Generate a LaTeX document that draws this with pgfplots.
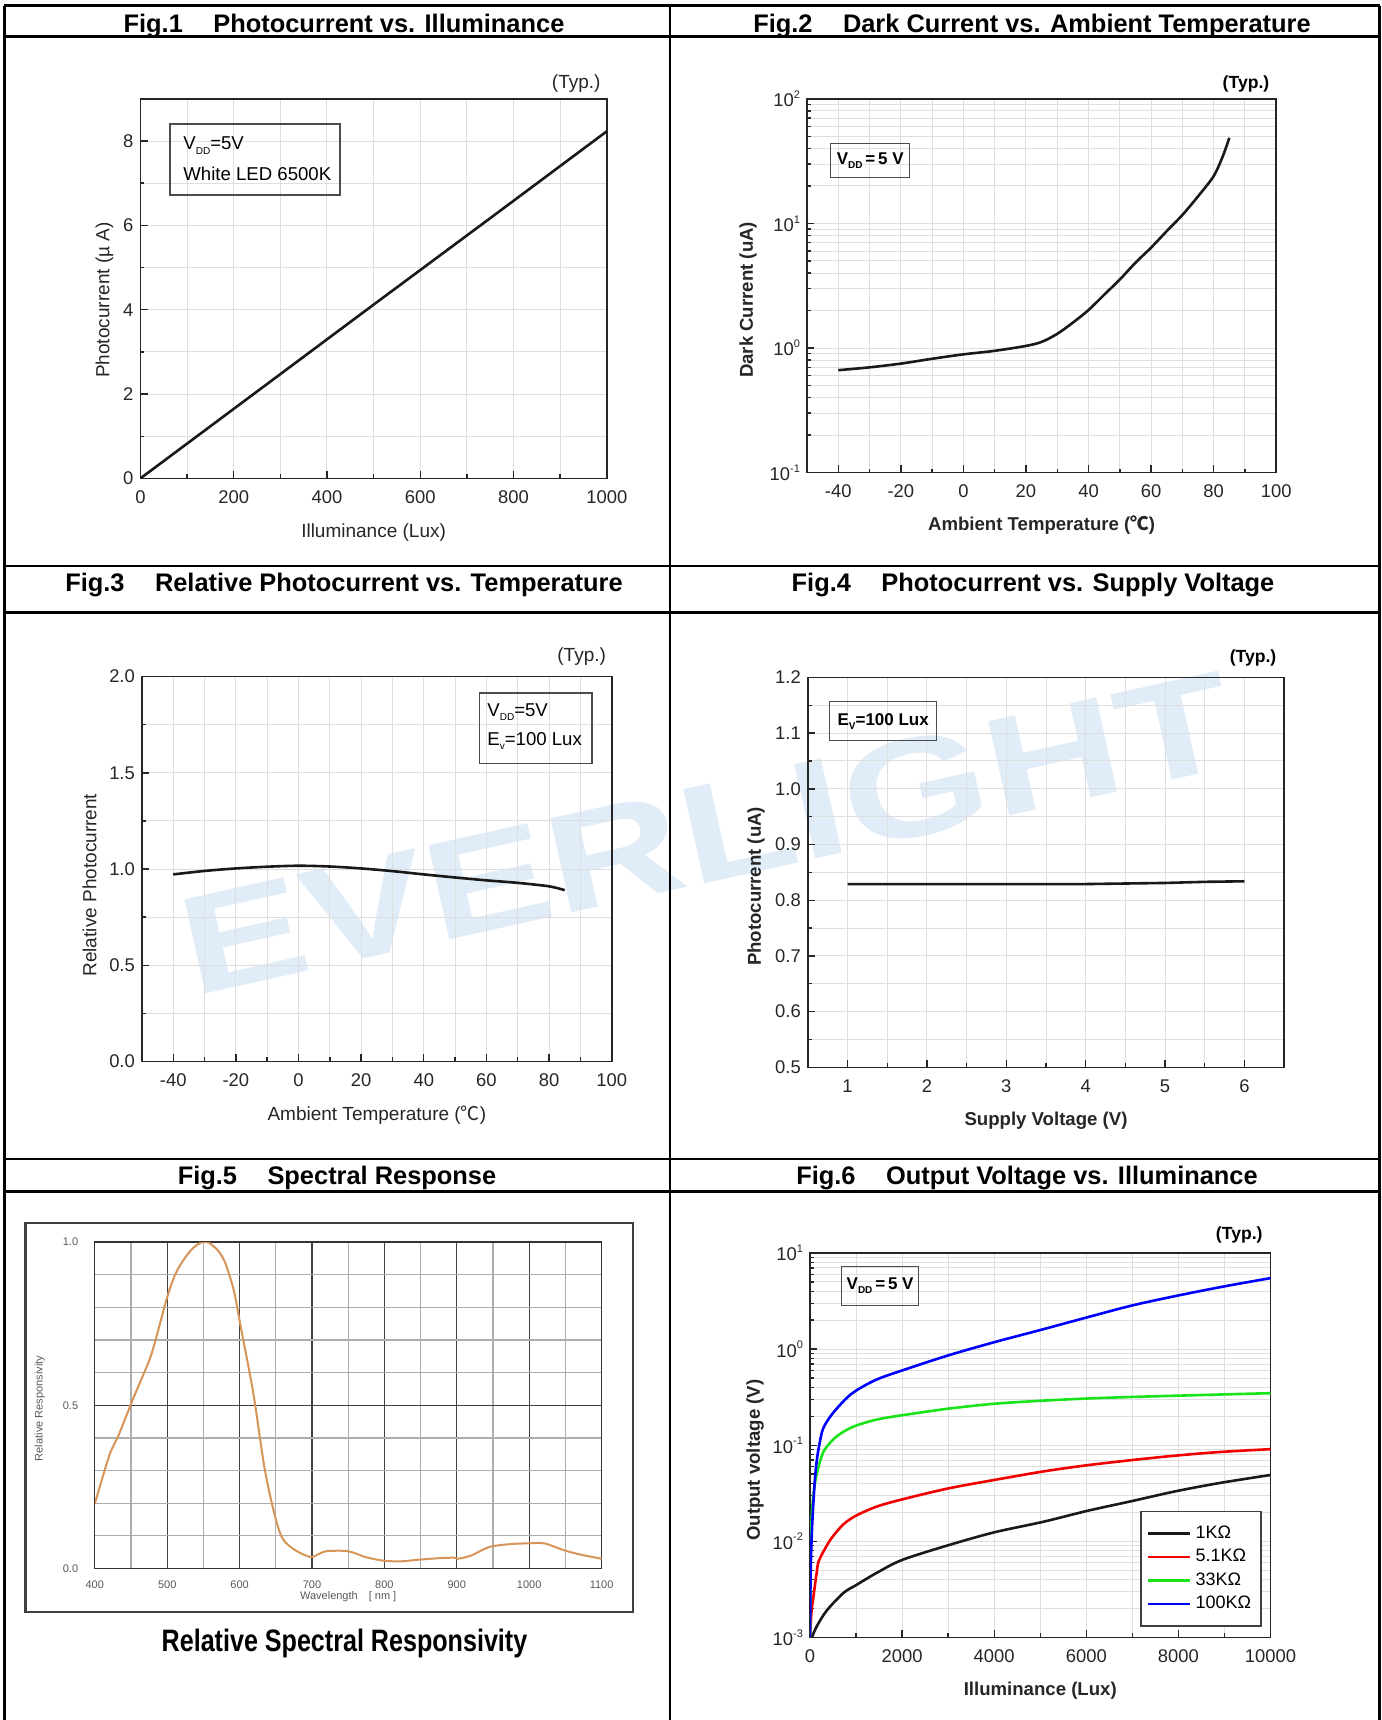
\documentclass[border=0pt]{standalone}
\usepackage{fontspec}
\setmainfont{Liberation Sans}
\newfontfamily\cjk{Noto Sans CJK SC}
\usepackage{pgfplots}
\pgfplotsset{compat=1.18}

\definecolor{wm}{RGB}{224,236,247}
\definecolor{spec}{RGB}{214,148,88}
\definecolor{grn}{RGB}{25,228,25}

% small helpers for sub/superscripts as printed on the sheet
\newcommand\lowsub[1]{\raisebox{-0.45ex}{\fontsize{5}{5}\selectfont #1}}
\newcommand\dec[1]{10\raisebox{0.85ex}{\fontsize{5.5}{5}\selectfont #1}}
\newcommand\degC{{\cjk ℃}}

\pgfplotsset{
  /pgf/number format/assume math mode=true,
  /pgf/number format/1000 sep={},
  sheet/.style={
    scale only axis,
    scaled ticks=false,
    grid=both,
    major grid style={draw=black!13, line width=0.5pt},
    minor grid style={draw=black!13, line width=0.5pt},
    axis line style={draw=black!85, line width=0.8pt},
    tick style={draw=black!85, line width=0.7pt},
    major tick length=3.6pt,
    minor tick length=2pt,
    tick align=inside,
    xtick pos=left, ytick pos=left,
    tick label style={font=\fontsize{9.2}{10}\selectfont, text=black!85},
    label style={font=\fontsize{9.5}{11}\selectfont, text=black!85},
    xticklabel style={yshift=-2.6pt},
    every axis plot/.append style={line width=1.3pt},
  },
  boldlab/.style={label style={font=\bfseries\fontsize{9.3}{11}\selectfont}},
  onedec/.style={yticklabel style={/pgf/number format/.cd,fixed,fixed zerofill,precision=1}},
}

\begin{document}
\begin{tikzpicture}
\fill[white] (0pt,0pt) rectangle (691pt,-860pt);
\useasboundingbox (0pt,0pt) rectangle (691pt,-860pt);

% watermark
\node[rotate=12.5, xscale=1.34, text=wm, font=\bfseries\fontsize{70}{70}\selectfont] at (353.5pt,-416.8pt) {EVERLIGHT};

% ---------------- Fig.1
\begin{axis}[sheet, at={(70.2pt,-239.2pt)}, anchor=south west,
  width=233.2pt, height=189.8pt,
  xmin=0, xmax=1000, ymin=0, ymax=9,
  xtick={0,200,...,1000}, minor xtick={100,300,...,900},
  ytick={0,2,...,8}, minor ytick={1,3,...,9},
  xlabel={Illuminance (Lux)}, ylabel={Photocurrent (µ A)},
  xlabel style={at={(axis description cs:0.5,-0.1433)}, anchor=center},
  ylabel style={at={(axis description cs:-0.0772,0.47)}, anchor=center},
]
\addplot[black!90] coordinates {(0,0)(250,2.06)(500,4.12)(750,6.17)(1000,8.23)};
\end{axis}

% ---------------- Fig.2
\begin{axis}[sheet, boldlab, at={(403.5pt,-236.3pt)}, anchor=south west,
  width=234.6pt, height=186.85pt,
  ymode=log, xmin=-50, xmax=100, ymin=0.1, ymax=100,
  xtick={-40,-20,...,100}, minor xtick={-50,-30,...,90},
  ytick={0.1,1,10,100}, yticklabels={\dec{-1},\dec{0},\dec{1},\dec{2}},
  xlabel={Ambient Temperature (\degC)}, ylabel={Dark Current (uA)},
  xlabel style={at={(axis description cs:0.5,-0.1402)}, anchor=center},
  ylabel style={at={(axis description cs:-0.1257,0.462)}, anchor=center},
]
\addplot[black!90, smooth] coordinates {(-40,0.664)(-30,0.70)(-20,0.75)(-10,0.82)(0,0.89)(10,0.95)(20,1.04)(25,1.12)(30,1.30)(35,1.60)(40,2.02)(45,2.68)(50,3.55)(55,4.84)(60,6.4)(65,8.68)(70,11.7)(75,16.5)(80,24)(83,35)(85,48.7)};
\end{axis}

% ---------------- Fig.3
\begin{axis}[sheet, onedec, at={(70.95pt,-530.7pt)}, anchor=south west,
  width=234.9pt, height=192.4pt,
  xmin=-50, xmax=100, ymin=0, ymax=2,
  xtick={-40,-20,...,100}, minor xtick={-50,-30,...,90},
  ytick={0,0.5,1,1.5,2}, minor ytick={0.25,0.75,1.25,1.75},
  xlabel={Ambient Temperature (\degC)}, ylabel={Relative Photocurrent},
  xlabel style={at={(axis description cs:0.5,-0.1403)}, anchor=center},
  ylabel style={at={(axis description cs:-0.1115,0.458)}, anchor=center},
]
\addplot[black!90, smooth] coordinates {(-40,0.972)(-30,0.99)(-20,1.003)(-10,1.012)(0,1.017)(10,1.013)(20,1.003)(30,0.989)(40,0.972)(50,0.956)(60,0.941)(70,0.928)(80,0.910)(85,0.89)};
\end{axis}

% ---------------- Fig.4
\begin{axis}[sheet, boldlab, onedec, at={(403.9pt,-533.65pt)}, anchor=south west,
  width=238.2pt, height=194.95pt,
  xmin=0.5, xmax=6.5, ymin=0.5, ymax=1.2,
  xtick={1,2,3,4,5,6}, minor xtick={0.5,1.5,2.5,3.5,4.5,5.5,6.5},
  ytick={0.5,0.6,0.7,0.8,0.9,1.0,1.1,1.2},
  minor ytick={0.55,0.65,0.75,0.85,0.95,1.05,1.15},
  xlabel={Supply Voltage (V)}, ylabel={Photocurrent (uA)},
  xlabel style={at={(axis description cs:0.5,-0.138)}, anchor=center},
  ylabel style={at={(axis description cs:-0.1087,0.464)}, anchor=center},
]
\addplot[black!90] coordinates {(1,0.829)(2,0.829)(3,0.829)(4,0.829)(4.5,0.830)(5,0.831)(5.5,0.833)(6,0.834)};
\end{axis}

% ---------------- Fig.5
\draw[black!75, line width=1.3pt] (12.8pt,-611.5pt) rectangle (316.4pt,-806pt);
\begin{axis}[scale only axis, at={(47.4pt,-784.25pt)}, anchor=south west,
  width=253.4pt, height=163.25pt,
  xmin=400, xmax=1100, ymin=0, ymax=1,
  xtick={400,500,...,1100}, minor xtick={450,550,...,1050},
  ytick={0,0.5,1}, minor ytick={0.1,0.2,0.3,0.4,0.6,0.7,0.8,0.9},
  grid=both,
  major grid style={draw=black!75, line width=0.55pt},
  minor grid style={draw=black!32, line width=0.6pt},
  axis line style={draw=black!80, line width=0.7pt},
  major tick length=0pt, minor tick length=0pt,
  tick label style={font=\fontsize{5.5}{6}\selectfont, text=black!65},
  yticklabel style={/pgf/number format/.cd,fixed,fixed zerofill,precision=1,/tikz/.cd,xshift=-4.8pt},
  xticklabel style={yshift=-2.4pt},
  label style={font=\fontsize{5.5}{6}\selectfont, text=black!65},
  xlabel={Wavelength\quad[ nm ]}, ylabel={Relative Responsivity},
  xlabel style={at={(axis description cs:0.5,-0.0873)}, anchor=center},
  ylabel style={at={(axis description cs:-0.1085,0.49)}, anchor=center},
]
\addplot[spec, line width=1pt, smooth] coordinates {
(400,0.198)(420,0.346)(433,0.409)(452,0.515)(464,0.578)(479,0.662)(500,0.831)
(512,0.905)(525,0.953)(537,0.984)(549,1.0)(558,0.997)(570,0.974)(580,0.937)
(592,0.852)(601,0.747)(619,0.536)(634,0.314)(647,0.177)(659,0.093)(677,0.056)
(698,0.035)(707,0.042)(720,0.053)(750,0.053)(774,0.035)(799,0.024)(823,0.022)
(847,0.027)(878,0.032)(896,0.033)(902,0.030)(920,0.040)(945,0.066)(975,0.075)
(999,0.077)(1021,0.077)(1048,0.056)(1072,0.042)(1100,0.030)};
\end{axis}
\node[font=\bfseries\fontsize{15.5}{17}\selectfont, xscale=0.81] at (172.25pt,-821.5pt) {Relative Spectral Responsivity};

% ---------------- Fig.6
\begin{axis}[sheet, boldlab, at={(405pt,-818.7pt)}, anchor=south west,
  width=230.25pt, height=192.2pt,
  ymode=log, xmin=0, xmax=10000, ymin=0.001, ymax=10,
  xtick={0,2000,...,10000}, minor xtick={1000,3000,...,9000},
  ytick={0.001,0.01,0.1,1,10},
  yticklabels={\dec{-3},\dec{-2},\dec{-1},\dec{0},\dec{1}},
  xlabel={Illuminance (Lux)}, ylabel={Output voltage (V)},
  xlabel style={at={(axis description cs:0.5,-0.1394)}, anchor=center},
  ylabel style={at={(axis description cs:-0.1194,0.461)}, anchor=center},
  legend cell align=left,
  legend style={at={(axis description cs:0.981,0.028)}, anchor=south east,
    draw=black!75, line width=0.7pt, font=\fontsize{9}{10}\selectfont,
    inner xsep=3pt, inner ysep=5pt, row sep=0pt},
  legend image code/.code={\draw[#1, line width=1.3pt] (0pt,0pt) -- (21pt,0pt);},
]
\addplot[black!90, smooth] coordinates {(40,0.001)(145,0.0013)(362,0.0019)(725,0.0029)(1000,0.0035)(1449,0.0047)(2000,0.0064)(3000,0.0091)(4000,0.0124)(5072,0.016)(6029,0.0208)(6986,0.0262)(7943,0.0332)(8900,0.0405)(10000,0.049)};
\addlegendentry{1KΩ}
\addplot[red!95!black, smooth] coordinates {(0,0.001)(30,0.0018)(72,0.0026)(145,0.0047)(200,0.0064)(450,0.0105)(725,0.015)(1000,0.0185)(1449,0.023)(2000,0.0273)(3000,0.0355)(4000,0.0435)(5072,0.0534)(6029,0.062)(6986,0.070)(7943,0.078)(8900,0.085)(10000,0.091)};
\addlegendentry{5.1KΩ}
\addplot[grn, smooth] coordinates {(0,0.001)(10,0.005)(30,0.015)(72,0.03)(145,0.05)(290,0.085)(507,0.115)(725,0.138)(1000,0.16)(1449,0.185)(2000,0.205)(3000,0.24)(4000,0.27)(5000,0.29)(6000,0.306)(7000,0.318)(8000,0.328)(9000,0.338)(10000,0.348)};
\addlegendentry{33KΩ}
\addplot[blue, smooth] coordinates {(0,0.001)(15,0.005)(48,0.015)(100,0.04)(143,0.067)(200,0.1)(287,0.15)(478,0.21)(766,0.30)(1000,0.37)(1435,0.48)(2000,0.60)(3000,0.86)(4000,1.18)(5000,1.58)(6000,2.13)(7000,2.85)(8000,3.62)(9000,4.5)(10000,5.48)};
\addlegendentry{100KΩ}
\end{axis}

% ---------------- annotations
\node[anchor=east, font=\fontsize{9.5}{11}\selectfont, text=black!85] at (303.8pt,-41.8pt) {(Typ.)};
\node[anchor=east, font=\bfseries\fontsize{8.8}{11}\selectfont] at (638.2pt,-41.8pt) {(Typ.)};
\node[anchor=east, font=\fontsize{9.5}{11}\selectfont, text=black!85] at (306.5pt,-328.5pt) {(Typ.)};
\node[anchor=east, font=\bfseries\fontsize{8.8}{11}\selectfont] at (641.7pt,-329pt) {(Typ.)};
\node[anchor=east, font=\bfseries\fontsize{8.8}{11}\selectfont] at (634.8pt,-617.5pt) {(Typ.)};

\draw[black!70, line width=0.7pt] (85pt,-62pt) rectangle (170pt,-97.5pt);
\node[anchor=west, inner sep=0pt, font=\fontsize{9.3}{11}\selectfont] at (91.5pt,-72.7pt) {V\lowsub{DD}=5V};
\node[anchor=west, inner sep=0pt, font=\fontsize{9.3}{11}\selectfont] at (91.5pt,-86.9pt) {White LED 6500K};

\draw[black!70, line width=0.7pt] (239.75pt,-346.5pt) rectangle (296pt,-381.8pt);
\node[anchor=west, inner sep=0pt, font=\fontsize{9.3}{11}\selectfont] at (243.5pt,-356pt) {V\lowsub{DD}=5V};
\node[anchor=west, inner sep=0pt, font=\fontsize{9.3}{11}\selectfont] at (243.5pt,-370.5pt) {E\lowsub{v}=100 Lux};

\node[draw=black!70, line width=0.7pt, anchor=north west, inner sep=0pt, minimum width=39.5pt, minimum height=17.25pt, font=\bfseries\fontsize{8.5}{10}\selectfont] at (415pt,-71.25pt) {V\lowsub{DD}\,=\,5 V};
\node[draw=black!70, line width=0.7pt, anchor=north west, inner sep=0pt, minimum width=53.5pt, minimum height=19.5pt, font=\bfseries\fontsize{8.5}{10}\selectfont] at (414.5pt,-350.5pt) {E\lowsub{V}=100 Lux};
\node[draw=black!70, line width=0.7pt, anchor=north west, inner sep=0pt, minimum width=38.6pt, minimum height=19.4pt, font=\bfseries\fontsize{8.5}{10}\selectfont] at (420.4pt,-633pt) {V\lowsub{DD}\,=\,5 V};

% ---------------- table frame and headers
\begin{scope}[line width=1.3pt]
\draw (2.2pt,-2.75pt) -- (689.8pt,-2.75pt);
\draw (2.2pt,-18.2pt) -- (689.8pt,-18.2pt);
\draw (2.2pt,-283pt) -- (689.8pt,-283pt);
\draw (2.2pt,-306.3pt) -- (689.8pt,-306.3pt);
\draw (2.2pt,-579.5pt) -- (689.8pt,-579.5pt);
\draw (2.2pt,-595.7pt) -- (689.8pt,-595.7pt);
\draw (2.2pt,-2.75pt) -- (2.2pt,-860pt);
\draw (335pt,-2.75pt) -- (335pt,-860pt);
\draw (689.8pt,-2.75pt) -- (689.8pt,-860pt);
\end{scope}
\begin{scope}[every node/.style={anchor=base, font=\bfseries\fontsize{12.7}{14}\selectfont}]
\node at (172pt,-16pt) {Fig.1\hspace{1.2em}Photocurrent vs. Illuminance};
\node at (516pt,-16pt) {Fig.2\hspace{1.2em}Dark Current vs. Ambient Temperature};
\node at (172pt,-295.8pt) {Fig.3\hspace{1.2em}Relative Photocurrent vs. Temperature};
\node at (516.5pt,-295.8pt) {Fig.4\hspace{1.2em}Photocurrent vs. Supply Voltage};
\node at (168.5pt,-592.3pt) {Fig.5\hspace{1.2em}Spectral Response};
\node at (513.5pt,-592.3pt) {Fig.6\hspace{1.2em}Output Voltage vs. Illuminance};
\end{scope}
\end{tikzpicture}
\end{document}
